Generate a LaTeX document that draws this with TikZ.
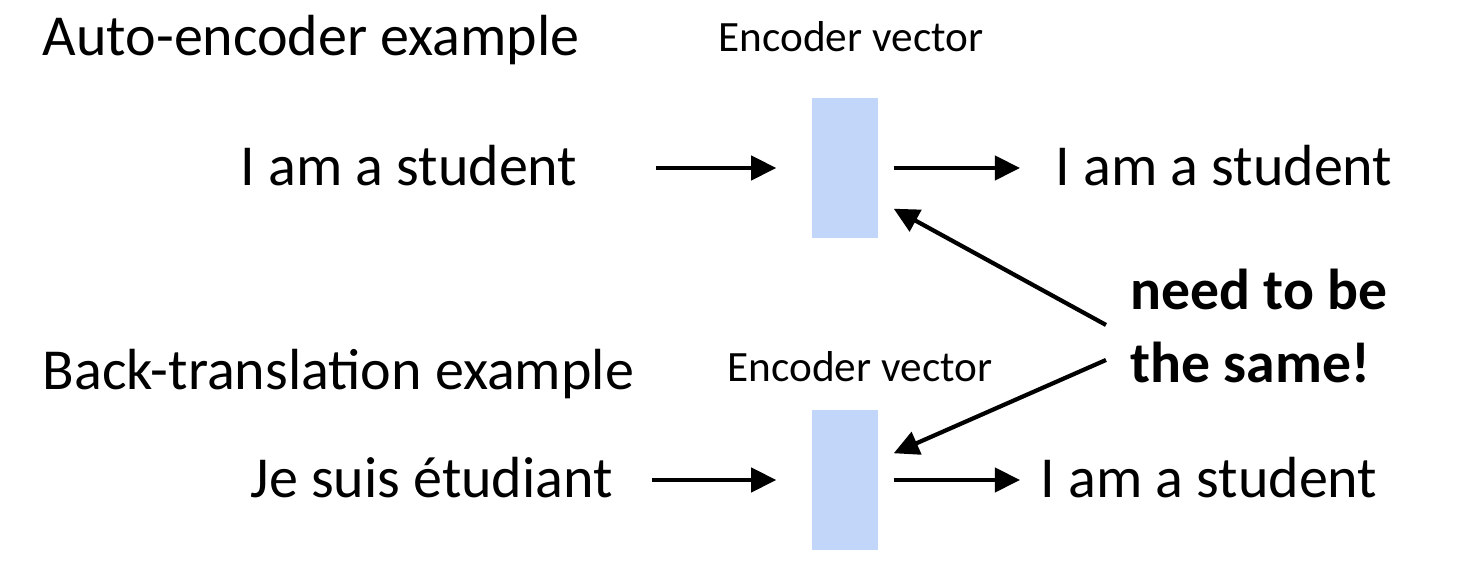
\documentclass[tikz,border=0pt]{standalone}
\usepackage{fontspec}
\setmainfont{Carlito}
\usetikzlibrary{arrows.meta, positioning}
\definecolor{encblue}{RGB}{194,214,250}
\tikzset{
  txt/.style={inner sep=0pt, anchor=base west, font=\fontsize{16.5}{20}\selectfont},
  lbl/.style={inner sep=0pt, anchor=base west, font=\fontsize{12.3}{15}\selectfont},
  note/.style={inner sep=0pt, anchor=base west, align=left, font=\bfseries\fontsize{16.4}{20.8}\selectfont},
  vec/.style={rectangle, draw=none, fill=encblue, minimum width=0.66cm, minimum height=1.4cm, inner sep=0pt}
}
\tikzstyle{arrow} = [line width=1.2pt, black, -{Triangle[length=0.25cm,width=0.24cm]}]

\begin{document}
\begin{tikzpicture}[x=0.01cm, y=-0.01cm]
    \useasboundingbox (0,0) rectangle (1466,568);
    % auto-encoder
    \node [txt] (title1) at (42,56) {Auto-encoder example};
    \node [lbl] (lab1) at (718,52) {Encoder vector};
    \node [vec] (enc1) at (845,168) {};
    \node [txt] (in1) at (240,186) {I am a student};
    \node [txt] (out1) at (1055,186) {I am a student};
    % back-translation
    \node [txt] (title2) at (42,390) {Back-translation example};
    \node [lbl] (lab2) at (727,382) {Encoder vector};
    \node [vec] (enc2) at (845,480) {};
    \node [txt] (in2) at (250,498) {Je suis étudiant};
    \node [txt] (out2) at (1040,498) {I am a student};
    \node [note] (same) at (1130,383) {need to be\\the same!};

    \draw [arrow, shorten <=0.78cm, shorten >=0.35cm] (in1.east |- enc1.west) -- (enc1.west);
    \draw [arrow, shorten <=0.15cm, shorten >=0.35cm] (enc1.east) -- (out1.west |- enc1.east);
    \draw [arrow, shorten <=0.38cm, shorten >=0.35cm] (in2.east |- enc2.west) -- (enc2.west);
    \draw [arrow, shorten <=0.15cm, shorten >=0.20cm] (enc2.east) -- (out2.west |- enc2.east);
    \draw [arrow] ([xshift=-0.24cm,yshift=0.58cm]same.base west) -- ([xshift=0.15cm,yshift=0.30cm]enc1.south east);
    \draw [arrow] ([xshift=-0.24cm,yshift=0.23cm]same.base west) -- ([xshift=0.15cm,yshift=-0.44cm]enc2.north east);
\end{tikzpicture}
\end{document}
